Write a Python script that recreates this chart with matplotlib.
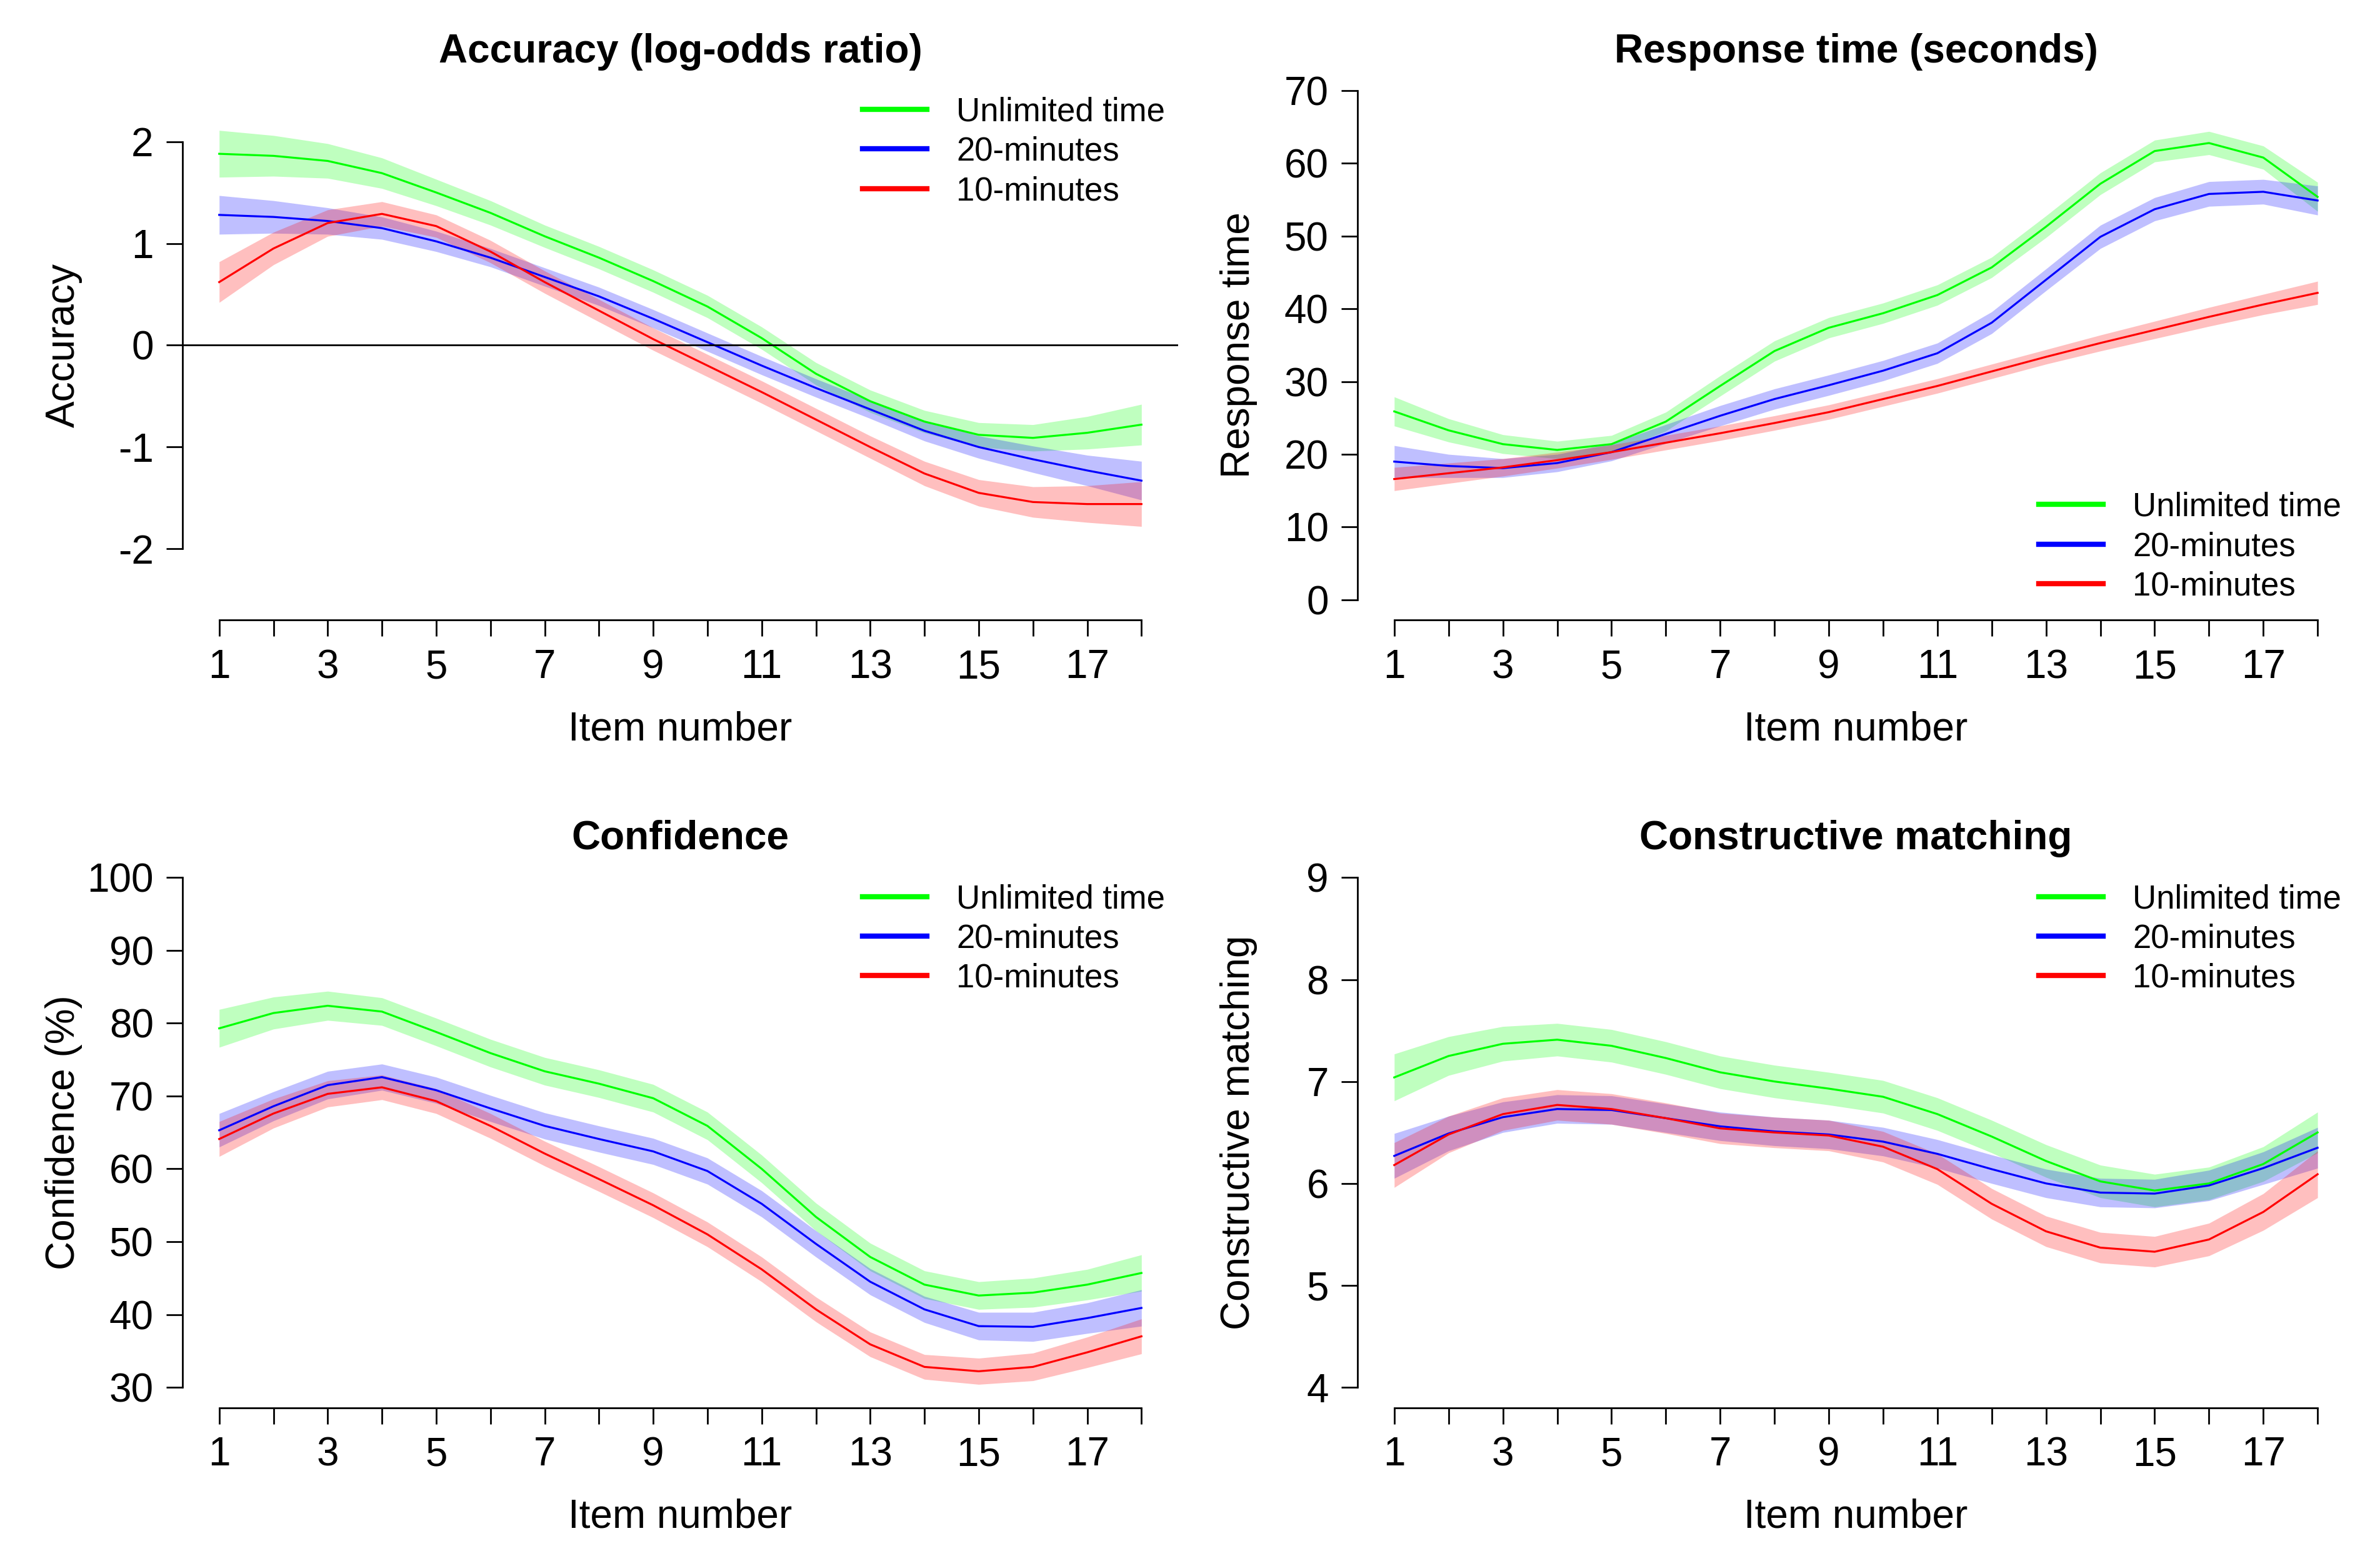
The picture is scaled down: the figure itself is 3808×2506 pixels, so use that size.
'''
Item-level trends by time condition: accuracy, response time,
confidence and constructive matching (4 panels)
'''

import numpy as np
import matplotlib
matplotlib.use('Agg')
import matplotlib.pyplot as plt

plt.rcParams['font.family'] = ['Liberation Sans', 'DejaVu Sans']

items = list(range(1, 19))
groups = ['Unlimited time', '20-minutes', '10-minutes']
line_cols = ['#00FF00', '#0000FF', '#FF0000']

# accuracy (log-odds ratio)
acc_unl = [1.88, 1.86, 1.81, 1.69, 1.50, 1.30, 1.07, 0.86, 0.63, 0.38, 0.07, -0.28, -0.55, -0.75, -0.88, -0.91, -0.86, -0.78]
acc_20 = [1.28, 1.26, 1.22, 1.15, 1.02, 0.86, 0.67, 0.48, 0.26, 0.03, -0.20, -0.42, -0.63, -0.84, -1.00, -1.12, -1.23, -1.33]
acc_10 = [0.62, 0.95, 1.20, 1.29, 1.17, 0.92, 0.62, 0.34, 0.06, -0.20, -0.46, -0.73, -1.00, -1.26, -1.45, -1.54, -1.56, -1.56]
acc_unl_se = [0.23, 0.20, 0.17, 0.15, 0.13, 0.12, 0.11, 0.11, 0.11, 0.11, 0.11, 0.11, 0.11, 0.11, 0.12, 0.13, 0.16, 0.20]
acc_20_se = [0.19, 0.16, 0.13, 0.11, 0.10, 0.09, 0.09, 0.09, 0.09, 0.09, 0.09, 0.09, 0.09, 0.10, 0.11, 0.13, 0.15, 0.19]
acc_10_se = [0.20, 0.16, 0.13, 0.12, 0.11, 0.11, 0.11, 0.11, 0.11, 0.11, 0.11, 0.11, 0.11, 0.12, 0.13, 0.15, 0.18, 0.22]

# response time (seconds)
rt_unl = [25.9, 23.3, 21.4, 20.6, 21.4, 24.5, 29.4, 34.2, 37.4, 39.4, 41.9, 45.7, 51.3, 57.2, 61.7, 62.8, 60.8, 55.4]
rt_20 = [19.0, 18.4, 18.1, 18.8, 20.3, 22.8, 25.3, 27.6, 29.5, 31.5, 33.9, 38.1, 44.0, 49.9, 53.7, 55.8, 56.1, 54.9]
rt_10 = [16.6, 17.4, 18.2, 19.2, 20.3, 21.6, 22.9, 24.3, 25.8, 27.6, 29.4, 31.4, 33.4, 35.3, 37.1, 38.9, 40.6, 42.2]
rt_unl_se = [2.0, 1.6, 1.3, 1.2, 1.2, 1.3, 1.4, 1.4, 1.4, 1.4, 1.4, 1.4, 1.5, 1.5, 1.5, 1.6, 1.6, 2.0]
rt_20_se = [2.2, 1.6, 1.3, 1.2, 1.2, 1.3, 1.4, 1.4, 1.4, 1.4, 1.4, 1.5, 1.5, 1.6, 1.6, 1.7, 1.7, 2.0]
rt_10_se = [1.6, 1.4, 1.2, 1.1, 1.0, 1.0, 1.0, 1.0, 1.0, 1.0, 1.0, 1.0, 1.0, 1.1, 1.2, 1.3, 1.4, 1.6]

# confidence (%)
conf_unl = [79.3, 81.4, 82.4, 81.6, 78.8, 75.9, 73.4, 71.7, 69.7, 65.9, 60.0, 53.4, 47.9, 44.1, 42.6, 43.0, 44.1, 45.7]
conf_20 = [65.3, 68.6, 71.5, 72.6, 70.8, 68.3, 65.9, 64.1, 62.4, 59.7, 55.2, 49.7, 44.5, 40.7, 38.4, 38.3, 39.5, 40.9]
conf_10 = [64.1, 67.6, 70.3, 71.2, 69.3, 65.9, 62.1, 58.6, 55.0, 51.0, 46.2, 40.7, 35.9, 32.8, 32.2, 32.8, 34.8, 37.0]
conf_unl_se = [2.6, 2.2, 2.0, 1.9, 1.9, 1.9, 1.9, 1.9, 1.9, 1.9, 1.9, 1.9, 1.9, 1.9, 1.9, 2.0, 2.1, 2.5]
conf_20_se = [2.3, 2.0, 1.9, 1.8, 1.8, 1.8, 1.8, 1.8, 1.8, 1.8, 1.8, 1.8, 1.8, 1.8, 1.9, 2.0, 2.1, 2.5]
conf_10_se = [2.4, 2.0, 1.8, 1.7, 1.7, 1.7, 1.7, 1.7, 1.7, 1.7, 1.7, 1.7, 1.7, 1.7, 1.8, 1.9, 2.1, 2.4]

# constructive matching
cm_unl = [7.04, 7.25, 7.37, 7.41, 7.35, 7.23, 7.09, 7.00, 6.93, 6.85, 6.68, 6.46, 6.22, 6.02, 5.93, 6.00, 6.19, 6.50]
cm_20 = [6.27, 6.49, 6.65, 6.73, 6.72, 6.64, 6.56, 6.51, 6.48, 6.41, 6.29, 6.14, 6.00, 5.91, 5.90, 5.98, 6.15, 6.35]
cm_10 = [6.18, 6.48, 6.68, 6.77, 6.73, 6.64, 6.54, 6.50, 6.47, 6.36, 6.14, 5.80, 5.53, 5.37, 5.33, 5.45, 5.72, 6.09]
cm_unl_se = [0.23, 0.19, 0.17, 0.16, 0.16, 0.16, 0.16, 0.16, 0.16, 0.16, 0.16, 0.16, 0.16, 0.16, 0.16, 0.16, 0.17, 0.20]
cm_20_se = [0.22, 0.17, 0.15, 0.14, 0.14, 0.14, 0.14, 0.14, 0.14, 0.14, 0.14, 0.14, 0.14, 0.14, 0.14, 0.15, 0.16, 0.20]
cm_10_se = [0.22, 0.18, 0.16, 0.15, 0.15, 0.15, 0.15, 0.15, 0.15, 0.15, 0.15, 0.15, 0.15, 0.15, 0.15, 0.16, 0.18, 0.23]

panels = [
    dict(title='Accuracy (log-odds ratio)', ylab='Accuracy',
         means=[acc_unl, acc_20, acc_10], ses=[acc_unl_se, acc_20_se, acc_10_se],
         yticks=[-2, -1, 0, 1, 2], ylim=(-2.7, 2.7), leg='upper right', zero=True),
    dict(title='Response time (seconds)', ylab='Response time',
         means=[rt_unl, rt_20, rt_10], ses=[rt_unl_se, rt_20_se, rt_10_se],
         yticks=[0, 10, 20, 30, 40, 50, 60, 70], ylim=(-2.8, 72.8), leg='lower right', zero=False),
    dict(title='Confidence', ylab='Confidence (%)',
         means=[conf_unl, conf_20, conf_10], ses=[conf_unl_se, conf_20_se, conf_10_se],
         yticks=[30, 40, 50, 60, 70, 80, 90, 100], ylim=(27.2, 102.8), leg='upper right', zero=False),
    dict(title='Constructive matching', ylab='Constructive matching',
         means=[cm_unl, cm_20, cm_10], ses=[cm_unl_se, cm_20_se, cm_10_se],
         yticks=[4, 5, 6, 7, 8, 9], ylim=(3.8, 9.2), leg='upper right', zero=False),
]

# axes rectangles [left, bottom, width, height] in figure fractions
rects = [[0.0766, 0.6040, 0.4185, 0.3511],
         [0.5703, 0.6040, 0.4190, 0.3511],
         [0.0766, 0.1011, 0.4185, 0.3515],
         [0.5703, 0.1011, 0.4190, 0.3515]]

fig = plt.figure(figsize=(19.04, 12.53), dpi=200)
x = np.array(items)

for p, r in zip(panels, rects):
    ax = fig.add_axes(r)
    for m, s, c in zip(p['means'], p['ses'], line_cols):
        m = np.array(m)
        s = np.array(s)
        ax.fill_between(x, m - s, m + s, color=c, alpha=0.25, lw=0)
        ax.plot(x, m, color=c, lw=1.15)
    if p['zero']:
        ax.axhline(0, color='black', lw=1.0)

    ax.set_xlim(0.32, 18.68)
    ax.set_ylim(*p['ylim'])
    ax.set_xticks(items)
    ax.set_xticklabels([str(i) if i % 2 == 1 else '' for i in items])
    ax.set_yticks(p['yticks'])
    ax.set_yticklabels([str(t) for t in p['yticks']])

    for side in ['top', 'right']:
        ax.spines[side].set_visible(False)
    ax.spines['left'].set_bounds(p['yticks'][0], p['yticks'][-1])
    ax.spines['bottom'].set_bounds(1, 18)
    for side in ['left', 'bottom']:
        ax.spines[side].set_linewidth(1.0)
    ax.tick_params(axis='both', length=9.5, width=1.0, labelsize=23, pad=7)

    ax.set_title(p['title'], fontsize=23, fontweight='bold', pad=-2.5)
    ax.set_xlabel('Item number', fontsize=23, labelpad=14)
    ax.set_ylabel(p['ylab'], fontsize=23)
    ax.yaxis.set_label_coords(-0.100, 0.5)

    handles = [plt.Line2D([], [], color=c, lw=3.0) for c in line_cols]
    anchor = (1.005, 0.985) if p['leg'] == 'upper right' else (1.005, 0.0)
    ax.legend(handles, groups, loc=p['leg'], bbox_to_anchor=anchor, frameon=False,
              fontsize=19, handlelength=1.95, handletextpad=0.9, labelspacing=0.25,
              borderaxespad=0.15)

plt.savefig('out.png', dpi=200)
print('DONE')
